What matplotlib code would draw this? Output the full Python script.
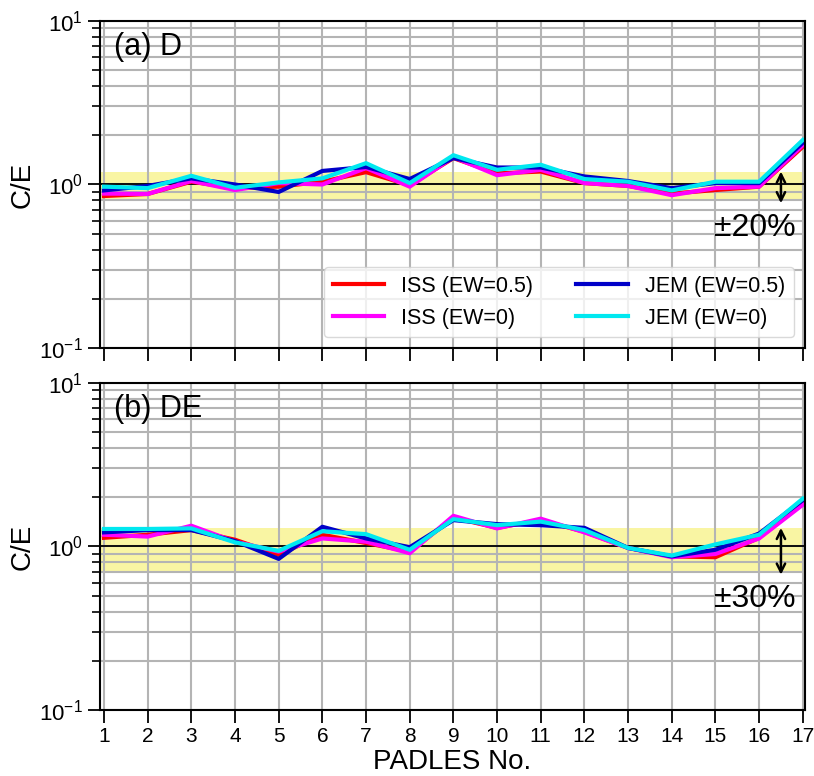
import numpy as np
import matplotlib
matplotlib.use("Agg")
import matplotlib.pyplot as plt

plt.rcParams['font.family'] = ['Liberation Sans', 'DejaVu Sans']
plt.rcParams['mathtext.fontset'] = 'custom'
plt.rcParams['mathtext.rm'] = 'Liberation Sans'
plt.rcParams['mathtext.it'] = 'Liberation Sans:italic'

padles = np.arange(1, 18)

# (a) D
d_iss_05 = [0.85, 0.875, 1.04, 0.95, 0.97, 1.04, 1.19, 0.99, 1.45, 1.17, 1.20, 1.02, 0.98, 0.88, 0.925, 0.97, 1.70]
d_iss_0  = [0.88, 0.875, 1.05, 0.925, 1.02, 1.00, 1.26, 0.97, 1.47, 1.14, 1.23, 1.02, 0.98, 0.86, 0.95, 0.97, 1.74]
d_jem_05 = [0.92, 0.98, 1.09, 1.00, 0.90, 1.21, 1.28, 1.08, 1.45, 1.27, 1.27, 1.12, 1.05, 0.95, 1.02, 1.02, 1.80]
d_jem_0  = [0.97, 0.95, 1.13, 0.955, 1.03, 1.09, 1.35, 1.02, 1.51, 1.23, 1.32, 1.08, 1.04, 0.92, 1.04, 1.04, 1.87]

# (b) DE
de_iss_05 = [1.13, 1.18, 1.26, 1.10, 0.89, 1.18, 1.05, 0.93, 1.50, 1.30, 1.45, 1.23, 0.98, 0.87, 0.86, 1.13, 1.83]
de_iss_0  = [1.18, 1.15, 1.34, 1.07, 0.93, 1.12, 1.07, 0.91, 1.54, 1.29, 1.48, 1.22, 0.98, 0.86, 0.90, 1.12, 1.80]
de_jem_05 = [1.22, 1.26, 1.26, 1.08, 0.84, 1.32, 1.12, 0.99, 1.45, 1.37, 1.35, 1.30, 0.98, 0.87, 0.955, 1.20, 1.92]
de_jem_0  = [1.28, 1.28, 1.29, 1.06, 0.94, 1.24, 1.19, 0.955, 1.47, 1.35, 1.42, 1.26, 0.98, 0.88, 1.03, 1.18, 1.96]

panels = [
    ('(a) D', (0.8, 1.2), '±20%', d_iss_05, d_iss_0, d_jem_05, d_jem_0),
    ('(b) DE', (0.7, 1.3), '±30%', de_iss_05, de_iss_0, de_jem_05, de_jem_0),
]

c_red, c_mag, c_blue, c_cyan = '#ff0000', '#ff00ff', '#0000c8', '#00e8f0'

fig = plt.figure(figsize=(8.14, 7.76), dpi=100)
ax_top = fig.add_axes([0.1229, 0.5515, 0.866, 0.4215])
ax_bot = fig.add_axes([0.1229, 0.085, 0.866, 0.4215])

for ax, (lab, band, txt, iss05, iss0, jem05, jem0) in zip([ax_top, ax_bot], panels):
    ax.set_yscale('log')
    ax.set_ylim(0.1, 10)
    ax.set_xlim(0.91, 17.05)
    ax.set_axisbelow(True)
    ax.axhspan(band[0], band[1], color='#f9f5a3', zorder=0.2, lw=0)
    ax.grid(True, which='major', color='#b4b4b4', lw=1.5)
    ax.grid(True, which='minor', axis='y', color='#b4b4b4', lw=1.5)
    ax.axhline(1.0, color='black', lw=1.3, zorder=1)

    l_r, = ax.plot(padles, iss05, color=c_red, lw=3, label='ISS (EW=0.5)')
    l_m, = ax.plot(padles, iss0, color=c_mag, lw=3, label='ISS (EW=0)')
    l_b, = ax.plot(padles, jem05, color=c_blue, lw=3, label='JEM (EW=0.5)')
    l_c, = ax.plot(padles, jem0, color=c_cyan, lw=3, label='JEM (EW=0)')

    ax.annotate('', xy=(16.5, band[0] * 0.96), xytext=(16.5, band[1]),
                arrowprops=dict(arrowstyle='<->', color='black', lw=1.8,
                                mutation_scale=15, shrinkA=0, shrinkB=0))
    ax.text(15.9, band[0] * 0.68, txt, fontsize=23, ha='center', va='center')
    ax.text(0.02, 0.965, lab, transform=ax.transAxes, fontsize=22,
            ha='left', va='top')

    ax.set_xticks(padles)
    ax.set_ylabel('C/E', fontsize=20, labelpad=2)
    ax.tick_params(axis='x', which='major', labelsize=15, length=9, width=1.3)
    ax.tick_params(axis='y', which='major', labelsize=16, length=9, width=1.3)
    ax.tick_params(axis='y', which='minor', length=6, width=1.2)
    for s in ax.spines.values():
        s.set_linewidth(1.5)

ax_top.tick_params(axis='x', labelbottom=False)
ax_bot.set_xlabel('PADLES No.', fontsize=20, labelpad=2)

ax_top.legend(handles=[l_r, l_m, l_b, l_c], ncol=2, loc='lower right',
              fontsize=15.5, handlelength=2.4, columnspacing=2.0,
              borderaxespad=0.5, framealpha=0.8, edgecolor='#d0d0d0')

fig.savefig('out.png', dpi=100)
